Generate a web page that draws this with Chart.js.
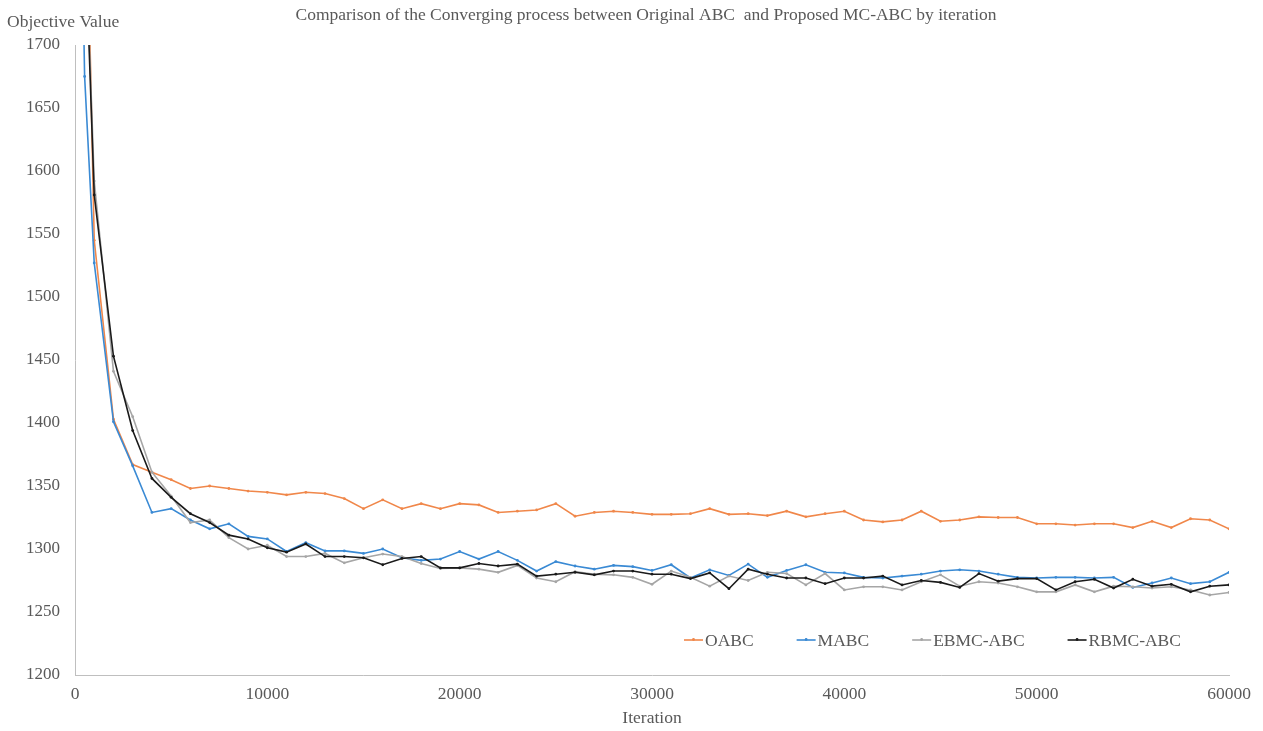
<!DOCTYPE html>
<html>
<head>
<meta charset="utf-8">
<script src="https://cdn.jsdelivr.net/npm/chart.js@4/dist/chart.umd.min.js"></script>
<style>
  html, body { margin: 0; padding: 0; background: #ffffff; }
  #wrap { width: 1263px; height: 731px; position: relative; }
</style>
</head>
<body>
<div id="wrap"><canvas id="chart" width="1263" height="731"></canvas></div>
<script>
// Iteration counts at which the objective value was recorded
const iterations = [0, 500, 1000, 2000, 3000, 4000, 5000, 6000, 7000, 8000, 9000,
  10000, 11000, 12000, 13000, 14000, 15000, 16000, 17000, 18000, 19000,
  20000, 21000, 22000, 23000, 24000, 25000, 26000, 27000, 28000, 29000,
  30000, 31000, 32000, 33000, 34000, 35000, 36000, 37000, 38000, 39000,
  40000, 41000, 42000, 43000, 44000, 45000, 46000, 47000, 48000, 49000,
  50000, 51000, 52000, 53000, 54000, 55000, 56000, 57000, 58000, 59000, 60000];

const seriesNames = ['OABC', 'MABC', 'EBMC-ABC', 'RBMC-ABC'];

const oabc = [2100, 1900, 1545, 1403, 1367, 1361, 1355, 1348, 1350, 1348, 1346,
  1345, 1343, 1345, 1344, 1340, 1332, 1339, 1332, 1336, 1332,
  1336, 1335, 1329, 1330, 1331, 1336, 1326, 1329, 1330, 1329,
  1327.5, 1327.5, 1328, 1332, 1327.5, 1328, 1326.5, 1330, 1325.5, 1328,
  1330, 1323, 1321.5, 1323, 1330, 1322, 1323, 1325.5, 1325, 1325,
  1320, 1320, 1319, 1320, 1320, 1317, 1322, 1317, 1324, 1323, 1316];

const mabc = [2100, 1675, 1527, 1401, 1366, 1329, 1332, 1323, 1316, 1320, 1310,
  1308, 1298, 1305, 1298.5, 1298.5, 1296.5, 1300, 1293, 1291, 1292,
  1298, 1292, 1298, 1291, 1282.5, 1290, 1286.5, 1284, 1287, 1286,
  1283, 1287.5, 1277, 1283.5, 1279, 1288, 1277.5, 1283, 1287.5, 1281.5,
  1281, 1277.5, 1277, 1278.5, 1280, 1282.5, 1283.5, 1282.5, 1280, 1277.5,
  1277, 1277.5, 1277.5, 1277, 1277.5, 1269.5, 1273, 1277, 1272.5, 1274, 1281.5];

const ebmcAbc = [2100, 1810, 1592, 1441, 1405, 1361, 1342, 1321, 1323, 1309, 1300,
  1303, 1294, 1294, 1296.5, 1289, 1293, 1296, 1294, 1288.5, 1284.5,
  1285, 1284, 1281.5, 1287, 1277, 1274, 1282, 1280, 1279.5, 1277.5,
  1272, 1282.5, 1277.5, 1270.5, 1278.5, 1275, 1281.5, 1280.5, 1271.5, 1280.5,
  1267.5, 1270, 1270, 1267.5, 1274, 1279.5, 1270.5, 1274, 1273, 1270,
  1266, 1266, 1271.5, 1266, 1270.5, 1270, 1269, 1270, 1267.5, 1263.5, 1265.5];

const rbmcAbc = [2100, 1800, 1581, 1453, 1394, 1356, 1341, 1328, 1321, 1311, 1308,
  1301, 1297.5, 1304, 1294, 1294, 1293, 1287.5, 1292.5, 1294, 1285,
  1285, 1288.5, 1286.5, 1288, 1278.5, 1280, 1281.5, 1279.5, 1282.5, 1282.5,
  1280, 1280, 1276.5, 1281, 1268.5, 1284, 1280, 1277, 1277, 1272.5,
  1277, 1277, 1278.5, 1271.5, 1275, 1273.5, 1269.5, 1280.5, 1274.5, 1276.5,
  1276.5, 1267.5, 1274, 1276, 1269, 1276, 1270.5, 1272, 1266, 1270.5, 1271.5];

// Axis tick values
const xTickValues = [0, 10000, 20000, 30000, 40000, 50000, 60000];
const yTickValues = [1200, 1250, 1300, 1350, 1400, 1450, 1500, 1550, 1600, 1650, 1700];

const FONT = '"Liberation Serif", "Times New Roman", serif';
const TEXT = '#595959';
const colors = ['#F0874A', '#3A8AD4', '#A6A6A6', '#1A1A1A'];

const pairs = ys => iterations.map((it, i) => ({ x: it, y: ys[i] }));
const allSeries = [oabc, mabc, ebmcAbc, rbmcAbc];

const datasets = allSeries.map((ys, i) => ({
  label: seriesNames[i],
  data: pairs(ys),
  borderColor: colors[i],
  backgroundColor: colors[i],
  borderWidth: 1.6,
  pointRadius: 1.4,
  pointHoverRadius: 1.4,
  pointBorderWidth: 0,
  tension: 0,
  fill: false,
  clip: 0,
  order: 4 - i
}));

// Chart title, horizontal y-axis caption and the in-plot legend
const annotations = {
  id: 'annotations',
  afterDraw(chart) {
    const ctx = chart.ctx;
    ctx.save();
    ctx.fillStyle = TEXT;
    ctx.font = '17.5px ' + FONT;
    ctx.textBaseline = 'middle';
    ctx.textAlign = 'center';
    ctx.fillText('Comparison of the Converging process between Original ABC  and Proposed MC-ABC by iteration', 646, 15);
    ctx.textAlign = 'left';
    ctx.fillText('Objective Value', 7, 22);

    // legend
    ctx.font = '17.5px ' + FONT;
    let x = 684;
    const y = 640;
    chart.data.datasets.forEach(ds => {
      ctx.strokeStyle = ds.borderColor;
      ctx.lineWidth = 1.6;
      ctx.beginPath();
      ctx.moveTo(x, y);
      ctx.lineTo(x + 19, y);
      ctx.stroke();
      ctx.fillStyle = ds.borderColor;
      ctx.beginPath();
      ctx.arc(x + 9.5, y - 0.5, 1.4, 0, Math.PI * 2);
      ctx.fill();
      ctx.fillStyle = TEXT;
      ctx.fillText(ds.label, x + 21, y + 1);
      x += 21 + ctx.measureText(ds.label).width + 43;
    });
    ctx.restore();
  }
};

new Chart(document.getElementById('chart'), {
  type: 'line',
  data: { datasets },
  options: {
    responsive: false,
    animation: false,
    events: [],
    layout: { padding: { top: 45, right: 34, bottom: 0, left: 0 } },
    plugins: {
      legend: { display: false },
      tooltip: { enabled: false },
      title: { display: false }
    },
    scales: {
      x: {
        type: 'linear',
        min: 0,
        max: 60000,
        afterBuildTicks: scale => { scale.ticks = xTickValues.map(v => ({ value: v })); },
        afterFit: scale => { scale.height = 56; },
        ticks: {
          autoSkip: false,
          maxRotation: 0,
          padding: 9,
          color: TEXT,
          font: { family: FONT, size: 17.5 },
          callback: v => String(v)
        },
        grid: { display: false, drawTicks: false },
        border: { color: '#BFBFBF', width: 1 },
        title: {
          display: true,
          text: 'Iteration',
          color: TEXT,
          font: { family: FONT, size: 17.5 },
          padding: { top: 2, bottom: 2 }
        }
      },
      y: {
        type: 'linear',
        min: 1200,
        max: 1700,
        afterBuildTicks: scale => { scale.ticks = yTickValues.map(v => ({ value: v })); },
        afterFit: scale => { scale.width = 75; },
        ticks: {
          padding: 15,
          color: TEXT,
          font: { family: FONT, size: 17 },
          callback: v => String(v)
        },
        grid: { display: false, drawTicks: false },
        border: { color: '#BFBFBF', width: 1 }
      }
    }
  },
  plugins: [annotations]
});
</script>
</body>
</html>
